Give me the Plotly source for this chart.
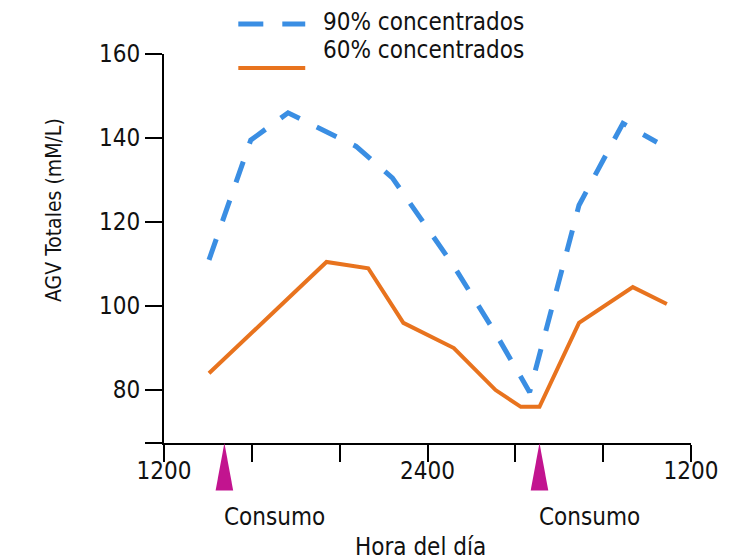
import plotly.graph_objects as go

# Hour of day, continuing past midnight (12 = 1200, 24 = 2400, 36 = 1200 next day)
hours_90 = [14.05, 15.95, 17.65, 20.75, 22.4, 25.2, 27.1, 28.65, 30.9, 32.9, 34.45]
agv_90 = [111, 139.5, 146, 138, 130.5, 109.5, 93.5, 79.5, 124, 143.5, 139]

hours_60 = [14.05, 19.4, 21.3, 22.9, 25.2, 27.1, 28.25, 29.1, 30.9, 33.35, 34.9]
agv_60 = [84, 110.5, 109, 96, 90, 80, 76, 76, 96, 104.5, 100.5]

series_names = ["90% concentrados", "60% concentrados"]
feeding_hours = [14.75, 29.1]
feeding_label = "Consumo"

x_ticks = [12, 16, 20, 24, 28, 32, 36]
x_tick_text = ["1200", "", "", "2400", "", "", "1200"]
y_min = 67.4
y_ticks = [y_min, 80, 100, 120, 140, 160]
y_tick_text = ["", "80", "100", "120", "140", "160"]

BLUE = "#3A8EE3"
ORANGE = "#E8731E"
MAGENTA = "#C2148F"
INK = "#111111"
FONT = "'DejaVu Sans Condensed', 'DejaVu Sans', sans-serif"
DASH = "22px,19px"
TXT = 24

fig = go.Figure()
fig.add_trace(go.Scatter(x=hours_90, y=agv_90, mode="lines", name=series_names[0],
                         line=dict(color=BLUE, width=5, dash=DASH)))
fig.add_trace(go.Scatter(x=hours_60, y=agv_60, mode="lines", name=series_names[1],
                         line=dict(color=ORANGE, width=4)))

# feeding markers: narrow triangles hanging below the time axis
for h in feeding_hours:
    fig.add_shape(type="path", xref="x", yref="paper",
                  path=f"M {h} 0 L {h - 0.4} -0.122 L {h + 0.4} -0.122 Z",
                  fillcolor=MAGENTA, line=dict(width=0))
    fig.add_annotation(x=h, y=-0.19, xref="x", yref="paper", text=feeding_label,
                       showarrow=False, xanchor="left", yanchor="middle",
                       xshift=-2, font=dict(size=TXT, color=INK))

# legend drawn as line samples with labels
fig.add_shape(type="line", xref="paper", yref="paper", x0=0.141, x1=0.268, y0=1.077, y1=1.077,
              line=dict(color=BLUE, width=5, dash="25px,19px"))
fig.add_shape(type="line", xref="paper", yref="paper", x0=0.141, x1=0.268, y0=0.964, y1=0.964,
              line=dict(color=ORANGE, width=4))
fig.add_annotation(x=0.297, y=1.082, xref="paper", yref="paper", text=series_names[0],
                   showarrow=False, xanchor="left", yanchor="middle", font=dict(size=TXT, color=INK))
fig.add_annotation(x=0.297, y=1.010, xref="paper", yref="paper", text=series_names[1],
                   showarrow=False, xanchor="left", yanchor="middle", font=dict(size=TXT, color=INK))

# axis titles
fig.add_annotation(x=0.487, y=-0.268, xref="paper", yref="paper", text="Hora del día",
                   showarrow=False, xanchor="center", yanchor="middle", font=dict(size=TXT, color=INK))
fig.add_annotation(x=-0.21, y=0.6, xref="paper", yref="paper", text="AGV Totales (mM/L)",
                   textangle=-90, showarrow=False, xanchor="center", yanchor="middle",
                   font=dict(size=21, color=INK))

axis_common = dict(showline=True, linecolor="black", linewidth=2, ticks="outside",
                   ticklen=17, tickwidth=2, tickcolor="black", showgrid=False,
                   zeroline=False, tickfont=dict(size=TXT, color=INK))
fig.update_xaxes(range=[12, 36], tickmode="array", tickvals=x_ticks, ticktext=x_tick_text,
                 ticklabelstandoff=-12, **axis_common)
fig.update_yaxes(range=[y_min, 160], tickmode="array", tickvals=y_ticks, ticktext=y_tick_text,
                 ticklabelstandoff=0, **axis_common)

fig.update_layout(width=730, height=560, margin=dict(l=164, r=28, t=54, b=117),
                  paper_bgcolor="white", plot_bgcolor="white", showlegend=False,
                  font=dict(family=FONT, color=INK))

fig.write_html("out.html")
